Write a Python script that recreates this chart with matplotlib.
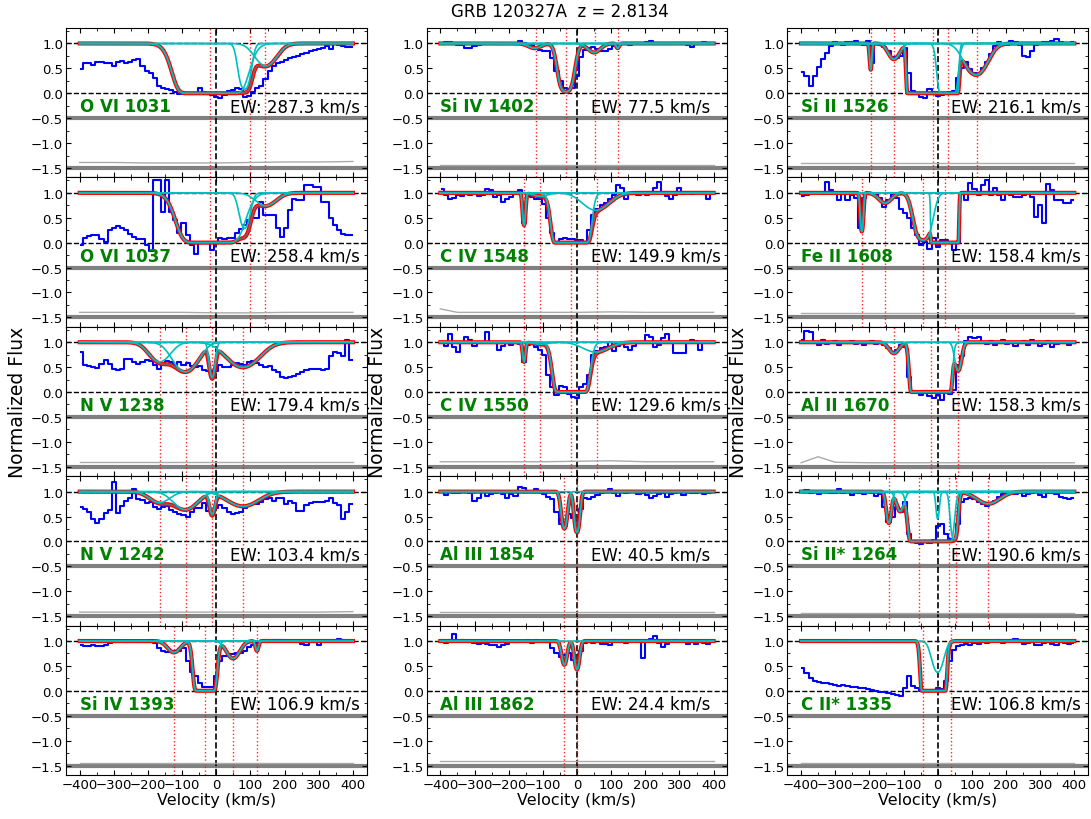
"""
Velocity stack for GRB 120327A (z = 2.8134).

Each panel: normalized flux (blue steps), individual fit components (cyan),
total model (red), component centres (red dotted), error spectrum offset to -1.5.
Output: out.png
"""

import matplotlib
matplotlib.use("Agg")
import matplotlib.pyplot as plt
import numpy as np
from matplotlib.ticker import MultipleLocator

# pixel velocities (km/s), 12 km/s bins, shared by every transition
VEL = np.arange(-396, 397, 12)
# fine grid for the model curves
VMODEL = np.linspace(-400, 400, 1601)
# velocities where the error spectrum was read
ERR_VEL = [-400, -350, -300, -200, -100, 0, 100, 200, 300, 400]

# ---- column 1 -------------------------------------------------------------
FLUX_OVI_1031 = [
    0.49, 0.6, 0.6, 0.56, 0.62, 0.62, 0.6, 0.6, 0.55, 0.63, 0.64,
    0.6, 0.62, 0.66, 0.68, 0.55, 0.45, 0.4, 0.3, 0.15, 0.1, 0.08,
    0.07, 0.03, -0.01, -0.01, 0.0, -0.02, 0.01, 0.1, 0.02, -0.02, -0.04,
    -0.07, -0.1, -0.03, 0.05, 0.07, 0.1, 0.08, -0.08, -0.05, 0.03, 0.1,
    0.15, 0.28, 0.45, 0.55, 0.6, 0.63, 0.66, 0.7, 0.72, 0.75, 0.78,
    0.8, 0.84, 0.86, 0.88, 0.9, 0.95, 0.88, 0.98, 0.97, 0.95, 0.93, 0.92,
]
COMPS_OVI_1031 = [(-17, 30, 60), (83, 2.5, 18), (145, 0.6, 40)]
MARKS_OVI_1031 = [-17, 100, 144]
ERR_OVI_1031 = [0.11, 0.11, 0.11, 0.1, 0.1, 0.1, 0.11, 0.12, 0.12, 0.13]

FLUX_OVI_1037 = [
    -0.05, 0.1, 0.14, 0.15, 0.15, 0.07, 0.02, 0.25, 0.3, 0.34, 0.3,
    0.25, 0.17, 0.12, 0.08, 0.08, -0.05, -0.17, 1.25, 1.25, 0.62, 1.25,
    0.62, 0.45, 0.2, 0.4, 0.15, -0.05, -0.22, 0.0, 0.0, 0.0, -0.15,
    0.0, 0.1, 0.08, 0.1, 0.1, 0.2, 0.28, 0.35, 0.45, 0.5, 0.5,
    0.82, 0.55, 0.55, 0.55, 0.3, 0.12, 0.3, 0.65, 0.87, 0.85, 0.85,
    1.15, 1.15, 1.12, 1.12, 0.82, 0.82, 0.5, 0.35, 0.25, 0.18, 0.15, 0.15,
]
COMPS_OVI_1037 = [(-17, 15, 60), (83, 1.25, 18), (145, 0.3, 40)]
MARKS_OVI_1037 = [-17, 100, 144]
ERR_OVI_1037 = [0.1, 0.1, 0.1, 0.1, 0.1, 0.09, 0.09, 0.1, 0.1, 0.1]

FLUX_NV_1238 = [
    0.8, 0.55, 0.52, 0.5, 0.49, 0.57, 0.65, 0.57, 0.47, 0.45, 0.47,
    0.67, 0.67, 0.6, 0.57, 0.6, 0.65, 0.63, 0.55, 0.47, 0.55, 0.62,
    0.6, 0.55, 0.6, 0.55, 0.58, 0.52, 0.5, 0.52, 0.45, 0.42, 0.42,
    0.42, 0.55, 0.5, 0.5, 0.55, 0.58, 0.56, 0.55, 0.6, 0.62, 0.58,
    0.55, 0.5, 0.52, 0.45, 0.4, 0.3, 0.28, 0.3, 0.33, 0.37, 0.4,
    0.44, 0.47, 0.47, 0.46, 0.45, 0.47, 0.72, 0.8, 0.78, 0.72, 1.05, 0.65,
]
COMPS_NV_1238 = [(-166, 0.5, 40), (-90, 0.9, 45), (-12, 1.2, 10), (78, 0.7, 60)]
MARKS_NV_1238 = [-166, -90, -12, 78]
ERR_NV_1238 = [0.09, 0.09, 0.09, 0.09, 0.09, 0.09, 0.09, 0.09, 0.09, 0.09]

FLUX_NV_1242 = [
    0.7, 0.65, 0.6, 0.45, 0.38, 0.45, 0.58, 0.63, 1.2, 0.57, 0.72,
    0.82, 0.88, 1.05, 0.85, 0.83, 0.77, 0.8, 0.7, 0.65, 0.7, 0.72,
    0.63, 0.6, 0.55, 0.53, 0.5, 0.6, 0.67, 0.68, 0.78, 0.62, 0.62,
    0.67, 0.73, 0.67, 0.6, 0.55, 0.57, 0.6, 0.67, 0.73, 0.75, 0.75,
    0.8, 0.85, 0.87, 0.82, 0.87, 0.87, 0.75, 0.82, 0.77, 0.62, 0.62,
    0.73, 0.77, 0.8, 0.8, 0.8, 0.82, 0.87, 0.77, 0.73, 0.45, 0.6, 0.75,
]
COMPS_NV_1242 = [(-166, 0.25, 40), (-90, 0.45, 45), (-12, 0.6, 10), (78, 0.35, 60)]
MARKS_NV_1242 = [-166, -90, -12, 78]
ERR_NV_1242 = [0.08, 0.08, 0.08, 0.08, 0.08, 0.08, 0.08, 0.08, 0.08, 0.09]

FLUX_SIIV_1393 = [
    0.93, 0.9, 0.9, 0.92, 0.89, 0.9, 0.93, 0.97, 0.98, 1.0, 1.0,
    0.99, 1.0, 1.0, 1.01, 1.0, 1.0, 1.03, 0.97, 0.85, 0.8, 0.78,
    0.78, 0.79, 0.8, 0.85, 0.6, 0.38, 0.3, 0.15, 0.08, 0.08, 0.08,
    0.3, 0.6, 0.7, 0.73, 0.73, 0.75, 0.75, 0.8, 0.88, 0.93, 0.97,
    1.0, 1.02, 1.01, 1.02, 1.02, 1.03, 1.0, 1.0, 0.99, 0.98, 0.95,
    0.92, 0.98, 0.98, 0.93, 1.0, 1.0, 1.01, 1.02, 1.05, 1.03, 1.0, 1.0,
]
COMPS_SIIV_1393 = [(-124, 0.26, 25), (-33, 50, 18), (49, 0.43, 25), (119, 0.22, 6)]
MARKS_SIIV_1393 = [-124, -32, 50, 119]
ERR_SIIV_1393 = [0.05, 0.05, 0.05, 0.05, 0.05, 0.05, 0.05, 0.05, 0.05, 0.05]

# ---- column 2 -------------------------------------------------------------
FLUX_SIIV_1402 = [
    1.0, 1.02, 1.03, 1.0, 0.97, 0.96, 0.9, 0.9, 0.94, 0.97, 0.98,
    1.0, 1.0, 0.99, 1.0, 1.01, 1.0, 1.0, 0.99, 1.04, 1.0, 0.98,
    0.97, 0.9, 0.86, 0.85, 0.84, 0.7, 0.45, 0.25, 0.1, 0.08, 0.1,
    0.35, 0.72, 0.87, 0.9, 0.92, 0.88, 0.84, 0.85, 0.88, 0.94, 0.97,
    0.99, 1.0, 0.97, 1.0, 1.0, 1.01, 1.02, 1.04, 1.0, 1.0, 0.99,
    0.98, 0.99, 1.0, 1.0, 0.98, 0.97, 0.93, 0.98, 1.0, 1.02, 1.01, 1.0,
]
COMPS_SIIV_1402 = [(-124, 0.1, 25), (-32, 3.5, 21), (50, 0.2, 25), (119, 0.1, 6)]
MARKS_SIIV_1402 = [-120, -32, 54, 120]
ERR_SIIV_1402 = [0.05, 0.05, 0.05, 0.05, 0.05, 0.05, 0.05, 0.05, 0.05, 0.05]

FLUX_CIV_1548 = [
    1.07, 0.95, 0.88, 0.9, 0.95, 0.93, 0.97, 0.95, 1.0, 0.93, 0.95,
    1.08, 1.05, 0.92, 0.95, 0.82, 0.87, 0.92, 0.98, 1.05, 0.4, 0.95,
    0.92, 0.87, 0.87, 0.78, 0.5, 0.2, 0.0, 0.08, 0.1, 0.07, 0.08,
    0.06, 0.05, 0.02, 0.25, 0.55, 0.68, 0.76, 0.8, 0.87, 0.95, 1.15,
    1.1, 0.88, 0.97, 1.0, 0.95, 1.0, 0.95, 1.0, 1.1, 1.22, 1.0,
    0.93, 0.88, 0.95, 1.1, 0.97, 1.0, 0.97, 1.0, 1.0, 1.0, 0.88, 1.0,
]
COMPS_CIV_1548 = [(-155, 1.05, 5), (-107, 0.07, 30), (-17, 100, 28), (55, 0.43, 50)]
MARKS_CIV_1548 = [-155, -107, -17, 60]
ERR_CIV_1548 = [0.17, 0.1, 0.1, 0.1, 0.1, 0.1, 0.11, 0.1, 0.1, 0.1]

FLUX_CIV_1550 = [
    1.0, 0.92, 1.17, 0.9, 0.8, 1.0, 1.1, 1.05, 0.93, 1.0, 1.0,
    1.2, 1.0, 1.0, 0.85, 0.92, 1.0, 0.95, 1.0, 0.97, 0.6, 0.95,
    1.0, 0.9, 0.85, 0.75, 0.35, 0.1, -0.05, 0.12, 0.1, -0.03, -0.1,
    -0.12, 0.1, 0.17, 0.35, 0.75, 0.82, 0.88, 0.9, 1.0, 0.83, 0.93,
    1.0, 0.9, 0.85, 0.92, 1.0, 1.0, 1.15, 1.1, 0.9, 0.95, 1.08,
    1.17, 1.0, 0.78, 0.78, 0.78, 1.0, 1.05, 1.02, 0.85, 1.0, 1.0, 1.0,
]
COMPS_CIV_1550 = [(-155, 0.5, 5), (-107, 0.04, 30), (-17, 50, 28), (55, 0.22, 50)]
MARKS_CIV_1550 = [-155, -107, -17, 60]
ERR_CIV_1550 = [0.1, 0.1, 0.1, 0.1, 0.1, 0.11, 0.12, 0.1, 0.1, 0.1]

FLUX_ALIII_1854 = [
    1.0, 0.93, 1.0, 0.97, 0.98, 1.0, 1.02, 0.97, 0.82, 0.88, 1.0,
    0.92, 0.95, 0.97, 1.0, 0.95, 0.88, 0.95, 0.92, 1.1, 1.07, 1.02,
    1.0, 1.05, 1.0, 0.95, 0.9, 0.85, 0.6, 0.35, 0.3, 0.55, 0.47,
    0.42, 0.65, 0.87, 0.85, 0.9, 0.93, 0.97, 1.02, 1.05, 0.97, 0.92,
    1.0, 0.97, 0.99, 1.0, 0.95, 0.97, 0.93, 0.87, 0.92, 0.95, 0.97,
    0.9, 0.95, 0.97, 1.02, 0.93, 1.0, 0.97, 0.98, 1.0, 0.95, 0.97, 1.0,
]
COMPS_ALIII_1854 = [(-37, 1.35, 10), (0, 1.7, 9)]
MARKS_ALIII_1854 = [-37, 0]
ERR_ALIII_1854 = [0.08, 0.08, 0.08, 0.08, 0.08, 0.08, 0.08, 0.08, 0.08, 0.08]

FLUX_ALIII_1862 = [
    1.0, 0.97, 1.03, 1.15, 1.0, 1.02, 1.0, 0.98, 0.97, 0.95, 0.97,
    0.95, 0.93, 0.93, 0.88, 0.92, 0.95, 1.0, 0.98, 1.0, 1.0, 1.02,
    0.97, 1.02, 1.0, 0.98, 0.98, 0.85, 0.75, 0.68, 0.72, 0.75, 0.62,
    0.55, 0.8, 0.97, 1.0, 0.97, 1.0, 0.95, 0.95, 0.92, 1.02, 1.0,
    0.98, 0.97, 1.0, 1.0, 1.0, 0.65, 1.0, 1.05, 1.1, 0.97, 0.88,
    0.95, 1.0, 1.03, 1.0, 0.98, 0.95, 1.0, 0.95, 1.0, 0.97, 0.95, 1.0,
]
COMPS_ALIII_1862 = [(-37, 0.65, 10), (0, 0.85, 9)]
MARKS_ALIII_1862 = [-37, 0]
ERR_ALIII_1862 = [0.09, 0.09, 0.09, 0.09, 0.09, 0.09, 0.09, 0.09, 0.09, 0.09]

# ---- column 3 -------------------------------------------------------------
FLUX_SIII_1526 = [
    0.43, 0.35, 0.15, 0.35, 0.52, 0.69, 0.8, 0.95, 1.03, 1.0, 0.97,
    1.03, 1.02, 1.05, 0.98, 0.97, 1.05, 0.6, 1.0, 0.97, 0.92, 0.85,
    0.72, 0.7, 0.75, 0.9, 0.4, 0.05, -0.02, -0.08, -0.1, 0.08, 0.02,
    -0.05, -0.03, 0.0, 0.02, 0.05, 0.3, 0.5, 0.62, 0.48, 0.4, 0.38,
    0.5, 0.62, 0.78, 0.95, 1.02, 0.98, 0.96, 1.05, 1.02, 0.97, 0.75,
    0.72, 0.85, 0.96, 0.98, 1.02, 1.03, 1.05, 1.08, 1.03, 1.0, 1.0, 1.02,
]
COMPS_SIII_1526 = [(-196, 0.75, 4), (-128, 0.38, 22), (-15, 1e8, 18), (29, 20, 18), (112, 1.0, 40)]
MARKS_SIII_1526 = [-196, -128, -13, 29, 116]
ERR_SIII_1526 = [0.1, 0.1, 0.1, 0.1, 0.1, 0.1, 0.1, 0.1, 0.1, 0.1]

FLUX_FEII_1608 = [
    0.93, 0.95, 1.0, 1.0, 1.0, 0.98, 1.22, 1.05, 1.0, 0.85, 0.97,
    0.85, 0.95, 0.9, 0.3, 0.9, 0.97, 1.0, 0.98, 0.9, 0.72, 0.85,
    0.97, 0.9, 0.68, 0.6, 0.5, 0.3, 0.15, -0.04, 0.02, -0.12, 0.1,
    -0.08, 0.05, 0.05, 0.0, -0.15, 0.0, 1.0, 0.85, 1.2, 1.08, 0.95,
    1.15, 1.25, 0.95, 1.1, 0.95, 0.85, 1.0, 0.95, 0.92, 0.92, 0.95,
    1.0, 0.92, 0.52, 0.75, 0.4, 1.17, 1.05, 0.85, 0.85, 0.8, 0.8, 0.85,
]
COMPS_FEII_1608 = [(-222, 1.5, 5), (-154, 0.23, 25), (-43, 3.0, 25), (21, 1e8, 9.7)]
MARKS_FEII_1608 = [-222, -154, -43, 22]
ERR_FEII_1608 = [0.09, 0.09, 0.09, 0.09, 0.09, 0.09, 0.09, 0.09, 0.09, 0.09]

FLUX_ALII_1670 = [
    1.05, 1.22, 1.2, 1.0, 0.95, 1.05, 0.97, 1.0, 1.02, 0.95, 1.0,
    0.98, 1.03, 0.97, 1.0, 0.95, 1.0, 1.02, 0.97, 1.0, 0.95, 0.88,
    0.8, 0.85, 0.95, 0.9, 0.3, 0.02, 0.0, -0.05, 0.02, -0.08, -0.12,
    -0.05, -0.15, 0.0, -0.03, 0.05, 0.55, 0.72, 1.02, 1.1, 1.08, 1.1,
    1.0, 0.97, 1.02, 0.95, 1.0, 1.05, 0.97, 1.0, 0.93, 0.98, 1.02,
    0.95, 1.05, 1.0, 0.92, 0.97, 1.03, 0.9, 0.97, 1.0, 0.98, 0.95, 1.0,
]
COMPS_ALII_1670 = [(-128, 0.25, 20), (-20, 1e4, 21), (60, 0.85, 12)]
MARKS_ALII_1670 = [-128, -20, 60]
ERR_ALII_1670 = [0.08, 0.2, 0.09, 0.08, 0.08, 0.08, 0.08, 0.08, 0.08, 0.08]

FLUX_SIIIS_1264 = [
    1.0, 1.03, 0.97, 1.0, 0.95, 1.02, 1.0, 0.97, 0.98, 1.05, 0.97,
    1.0, 0.93, 1.0, 0.97, 0.95, 1.02, 0.98, 0.92, 0.95, 0.7, 0.4,
    0.5, 0.7, 0.6, 0.8, 0.15, 0.0, -0.03, -0.05, -0.02, -0.04, 0.02,
    0.3, 0.35, 0.15, 0.05, 0.05, 0.35, 0.8, 0.85, 0.88, 0.85, 0.8,
    0.75, 0.72, 0.75, 0.82, 0.9, 0.95, 1.0, 0.97, 0.95, 1.0, 0.92,
    0.95, 0.98, 1.0, 0.93, 0.9, 0.97, 0.98, 0.95, 0.9, 0.88, 0.85, 0.88,
]
COMPS_SIIIS_1264 = [(-143, 1.0, 9), (-110, 0.5, 14), (-20, 1e3, 26),
                    (0, 0.8, 6), (48, 3.0, 10), (148, 0.28, 45)]
MARKS_SIIIS_1264 = [-143, -55, 33, 53, 147]
ERR_SIIIS_1264 = [0.06, 0.06, 0.06, 0.06, 0.06, 0.06, 0.06, 0.06, 0.06, 0.06]

FLUX_CIIS_1335 = [
    0.45, 0.35, 0.25, 0.2, 0.17, 0.15, 0.15, 0.13, 0.12, 0.1, 0.12,
    0.1, 0.08, 0.07, 0.05, 0.05, 0.03, 0.02, 0.0, -0.02, -0.03, -0.05,
    -0.07, -0.08, -0.1, 0.05, 0.3, 0.1, 0.05, 0.0, 0.02, 0.0, 0.02,
    0.05, 0.03, 0.2, 0.6, 0.82, 0.9, 0.93, 0.95, 0.92, 0.97, 0.95,
    1.0, 0.97, 0.98, 1.0, 1.02, 0.97, 1.0, 1.03, 1.05, 1.0, 0.95,
    0.97, 1.0, 0.93, 0.92, 0.96, 0.98, 0.95, 0.93, 1.0, 0.97, 0.95, 0.96,
]
COMPS_CIIS_1335 = [(-12, 1e3, 15), (0, 1.0, 20)]
MARKS_CIIS_1335 = [-43, 40]
ERR_CIIS_1335 = [0.06, 0.06, 0.06, 0.06, 0.06, 0.06, 0.06, 0.06, 0.06, 0.06]

# columns of panels, top to bottom: (label, EW, flux, components, markers, error)
COLUMNS = [
    [
        ("O VI 1031", "287.3", FLUX_OVI_1031, COMPS_OVI_1031, MARKS_OVI_1031, ERR_OVI_1031),
        ("O VI 1037", "258.4", FLUX_OVI_1037, COMPS_OVI_1037, MARKS_OVI_1037, ERR_OVI_1037),
        ("N V 1238", "179.4", FLUX_NV_1238, COMPS_NV_1238, MARKS_NV_1238, ERR_NV_1238),
        ("N V 1242", "103.4", FLUX_NV_1242, COMPS_NV_1242, MARKS_NV_1242, ERR_NV_1242),
        ("Si IV 1393", "106.9", FLUX_SIIV_1393, COMPS_SIIV_1393, MARKS_SIIV_1393, ERR_SIIV_1393),
    ],
    [
        ("Si IV 1402", "77.5", FLUX_SIIV_1402, COMPS_SIIV_1402, MARKS_SIIV_1402, ERR_SIIV_1402),
        ("C IV 1548", "149.9", FLUX_CIV_1548, COMPS_CIV_1548, MARKS_CIV_1548, ERR_CIV_1548),
        ("C IV 1550", "129.6", FLUX_CIV_1550, COMPS_CIV_1550, MARKS_CIV_1550, ERR_CIV_1550),
        ("Al III 1854", "40.5", FLUX_ALIII_1854, COMPS_ALIII_1854, MARKS_ALIII_1854, ERR_ALIII_1854),
        ("Al III 1862", "24.4", FLUX_ALIII_1862, COMPS_ALIII_1862, MARKS_ALIII_1862, ERR_ALIII_1862),
    ],
    [
        ("Si II 1526", "216.1", FLUX_SIII_1526, COMPS_SIII_1526, MARKS_SIII_1526, ERR_SIII_1526),
        ("Fe II 1608", "158.4", FLUX_FEII_1608, COMPS_FEII_1608, MARKS_FEII_1608, ERR_FEII_1608),
        ("Al II 1670", "158.3", FLUX_ALII_1670, COMPS_ALII_1670, MARKS_ALII_1670, ERR_ALII_1670),
        ("Si II* 1264", "190.6", FLUX_SIIIS_1264, COMPS_SIIIS_1264, MARKS_SIIIS_1264, ERR_SIIIS_1264),
        ("C II* 1335", "106.8", FLUX_CIIS_1335, COMPS_CIIS_1335, MARKS_CIIS_1335, ERR_CIIS_1335),
    ],
]


def draw_panel(ax, label, ew, flux, comps, marks, err):
    taus = [t * np.exp(-((VMODEL - vc) / b) ** 2) for vc, t, b in comps]
    total = np.exp(-np.sum(taus, axis=0))

    ax.axhline(-0.5, color="gray", lw=3, zorder=1)
    ax.axhline(-1.5, color="gray", lw=3, zorder=1)
    ax.axhline(1.0, color="k", ls="--", lw=1, zorder=2)
    ax.axhline(0.0, color="k", ls="--", lw=1, zorder=2)
    ax.axvline(0.0, color="k", ls="--", lw=1.2, zorder=2)
    for vm in marks:
        ax.axvline(vm, color="red", ls=":", lw=1, alpha=0.85, zorder=2)

    ax.plot(ERR_VEL, -1.5 + np.asarray(err), color="#aaaaaa", lw=1, zorder=2)
    ax.step(VEL, flux, where="mid", color="blue", lw=1.5, zorder=3)
    ax.plot(VMODEL, total, color="red", lw=3, zorder=4)
    for tau in taus:
        ax.plot(VMODEL, np.exp(-tau), color="c", lw=1.2, zorder=5)
    ax.plot(VMODEL, total, color="c", lw=1.2, alpha=0.5, zorder=6)

    ax.text(-400, -0.26, label, color="green", fontweight="bold", fontsize=12, va="center")
    ax.text(40, -0.26, f"EW: {ew} km/s", color="black", fontsize=12, va="center")

    ax.set_xlim(-440, 440)
    ax.set_ylim(-1.69, 1.31)
    ax.xaxis.set_major_locator(MultipleLocator(100))
    ax.xaxis.set_minor_locator(MultipleLocator(50))
    ax.yaxis.set_major_locator(MultipleLocator(0.5))
    ax.yaxis.set_minor_locator(MultipleLocator(0.25))
    ax.tick_params(which="both", direction="in", top=True, right=True, labelsize=9.5, pad=2)
    ax.tick_params(which="major", length=3.5)
    ax.tick_params(which="minor", length=2)


def main() -> None:
    fig = plt.figure(figsize=(10.91, 8.2), dpi=100)
    gs = fig.add_gridspec(5, 3, left=0.0605, right=0.9972, bottom=0.0537, top=0.9646,
                          hspace=0, wspace=0.2)

    for col, panels in enumerate(COLUMNS):
        for row, (label, ew, flux, comps, marks, err) in enumerate(panels):
            ax = fig.add_subplot(gs[row, col])
            draw_panel(ax, label, ew, flux, comps, marks, err)
            if row < len(panels) - 1:
                ax.tick_params(labelbottom=False)
            else:
                ax.set_xlabel("Velocity (km/s)", fontsize=11.5, labelpad=1)
            if row == 2:
                ax.set_ylabel("Normalized Flux", fontsize=13.5, labelpad=3)

    fig.text(0.513, 0.985, "GRB 120327A  z = 2.8134", ha="center", va="center", fontsize=12)
    fig.savefig("out.png", dpi=100)
    plt.close(fig)


if __name__ == "__main__":
    main()
